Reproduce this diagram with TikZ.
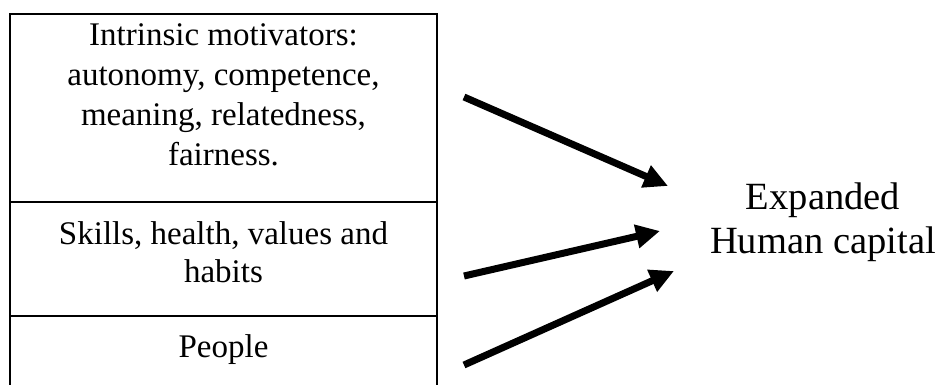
\documentclass[tikz,border=0pt]{standalone}
\usepackage{fontspec}
\setmainfont{Liberation Serif}
\usetikzlibrary{arrows.meta, positioning}

\begin{document}
\begin{tikzpicture}[
    x=0.75pt, y=-0.75pt,
    every node/.style={align=center},
    layerbox/.style={rectangle, draw=black, line width=1.1pt, outer sep=0pt, inner sep=0pt, minimum width=320.25pt},
    layertext/.style={inner sep=0pt, font=\fontsize{24.75}{30}\selectfont},
    goaltext/.style={inner sep=0pt, font=\fontsize{28.9}{33}\selectfont},
    arrow/.style={-{Triangle[length=18pt, width=17pt]}, line width=5.25pt}
]
\path[use as bounding box, clip] (0,0) rectangle (935,385);

% Stacked layers - bottom one runs off the page
\node[layerbox, anchor=north west, minimum height=141pt] (motiv) at (10,14) {};
\node[layerbox, below=0pt of motiv, minimum height=85.5pt] (skills) {};
\node[layerbox, below=0pt of skills, minimum height=63pt] (people) {};

% Layer texts
\node[layertext] (motivtxt) at (223.5,95) {Intrinsic motivators:\\autonomy, competence,\\meaning, relatedness,\\fairness.};
\node[layertext, font=\fontsize{24.75}{28.3}\selectfont] (skillstxt) at (223.5,252) {Skills, health, values and\\habits};
\node[layertext, anchor=base] (peopletxt) at (223.5,357) {People};

% Outcome
\node[goaltext] (hcap) at (823,222) {Expanded\\Human capital};

% Arrows into human capital
\coordinate (from1) at (464,97);
\coordinate (from2) at (464,276);
\coordinate (from3) at (464,365);
\coordinate (to1) at (668,186);
\coordinate (to2) at (660,231);
\coordinate (to3) at (674,271);
\draw[arrow] (from1) -- (to1);
\draw[arrow] (from2) -- (to2);
\draw[arrow] (from3) -- (to3);

\end{tikzpicture}
\end{document}
